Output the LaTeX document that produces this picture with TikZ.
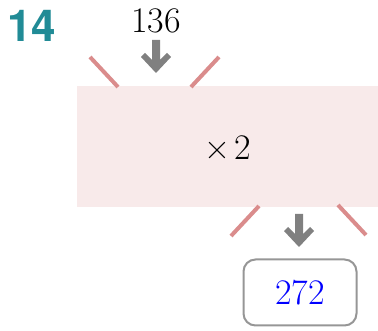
\documentclass[tikz,border=0pt]{standalone}
\usepackage{fontspec}
\newfontfamily\labelfont{TeX Gyre Heros}
\definecolor{teal14}{RGB}{33,139,150}
\definecolor{boxpink}{RGB}{248,234,234}
\definecolor{rayred}{RGB}{218,140,140}
\definecolor{arrgray}{RGB}{128,128,128}
\definecolor{rimgray}{RGB}{150,150,150}
\tikzset{
  ray/.style={draw=rayred,line width=4pt},
  bigtext/.style={font=\fontsize{36}{40}\selectfont,inner sep=0pt},
  downarrow/.style={fill=arrgray,draw=none},
}
\newcommand{\downarr}[2]{% center x, top y
  \fill[downarrow] (#1-4,#2) -- (#1+4,#2) -- (#1+4,#2+20) -- (#1+11,#2+13) -- (#1+15,#2+17) -- (#1,#2+33) -- (#1-15,#2+17) -- (#1-11,#2+13) -- (#1-4,#2+20) -- cycle;}
\begin{document}
\begin{tikzpicture}[x=1pt,y=-1pt]
\useasboundingbox (0,0) rectangle (378,331);
\node[anchor=center,text=teal14,font=\labelfont\bfseries\fontsize{44}{48}\selectfont,inner sep=0pt] (num) at (32,26) {14};
\node[bigtext] (in) at (156,21) {136};
\downarr{156}{40}
\node[fill=boxpink,minimum width=301pt,minimum height=121pt,inner sep=0pt,anchor=north west] (op) at (77,86) {};
\node[bigtext] (optext) at (228,148) {×\kern4pt2};
\draw[ray] (90,57) -- (118,87);
\draw[ray] (219,57) -- (191,87);
\draw[ray] (259,206) -- (231,236);
\draw[ray] (338,205) -- (366,235);
\downarr{299}{214}
\node[draw=rimgray,line width=2pt,rounded corners=12pt,minimum width=113pt,minimum height=66pt,inner sep=0pt,text=blue,font=\fontsize{36}{40}\selectfont] (out) at (300,292.5) {272};
\end{tikzpicture}
\end{document}
